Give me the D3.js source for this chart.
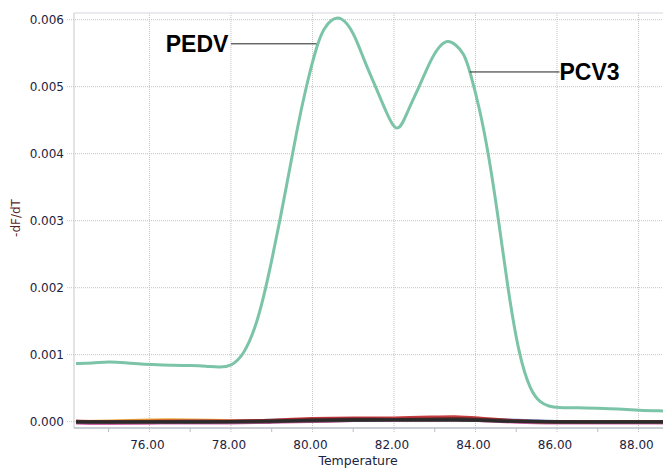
<!DOCTYPE html>
<meta charset="utf-8"/>
<style>
  body { margin: 0; background: #fff; }
  svg { display: block; }
</style>
<svg width="663" height="468"></svg>
<script src="https://d3js.org/d3.v7.min.js"></script>
<script>

// melt curve (target sample), temperature vs -dF/dT
var temps = [74.2, 74.6, 75.0, 75.4, 75.8, 76.2, 76.6, 77.0, 77.4, 77.7, 78.0, 78.32, 78.6, 78.8, 79.0, 79.2, 79.42, 79.62, 79.84,
             80.11, 80.28, 80.45, 80.7, 81.01, 81.26, 81.55, 81.8, 82.09, 82.33, 82.62, 82.9, 83.1, 83.31, 83.5, 83.72, 83.86,
             84.1, 84.32, 84.57, 84.79, 85.06, 85.35, 85.6, 85.8, 86.0, 86.5, 87.0, 87.5, 88.0, 88.6];
var dfdt = [0.00087, 0.00087, 0.00090, 0.00088, 0.00086, 0.00085, 0.00084, 0.00084, 0.00083, 0.00081, 0.00082, 0.00100, 0.00140, 0.00185, 0.00240, 0.00300, 0.00370, 0.00436, 0.00499,
            0.00563, 0.00587, 0.00600, 0.00606, 0.00582, 0.00540, 0.00500, 0.00463, 0.00426, 0.00463, 0.00500, 0.00540, 0.00560, 0.00570, 0.00564, 0.00550, 0.00524,
            0.00468, 0.00400, 0.00300, 0.00200, 0.00100, 0.00045, 0.00028, 0.00023, 0.00021, 0.00021, 0.00020, 0.00019, 0.00017, 0.00016];

// negative controls, all near zero
var ctrlTemps = [74.2, 75, 76, 77, 78, 79, 80, 81, 82, 83, 83.5, 84, 85, 86, 87, 88.6];
var ctrlSeries = [
  {color: "#e8a020", values: [0.00000, 0.00001, 0.00003, 0.00003, 0.00001, 0.00001, 0.00002, 0.00003, 0.00003, 0.00004, 0.00004, 0.00003, 0.00000, -0.00001, -0.00001, -0.00001]},
  {color: "#4a78c8", values: [-0.00001, 0.00000, 0.00000, 0.00001, 0.00000, 0.00002, 0.00004, 0.00005, 0.00004, 0.00004, 0.00005, 0.00004, 0.00002, 0.00000, -0.00001, 0.00000]},
  {color: "#d050a0", values: [-0.00002, -0.00003, -0.00002, -0.00002, -0.00002, -0.00001, 0.00000, 0.00002, 0.00002, 0.00002, 0.00003, 0.00002, -0.00001, -0.00002, -0.00002, -0.00002]},
  {color: "#c0282a", values: [0.00001, 0.00000, 0.00001, 0.00001, 0.00001, 0.00002, 0.00005, 0.00006, 0.00005, 0.00007, 0.00008, 0.00006, 0.00001, -0.00001, 0.00000, 0.00000]},
  {color: "#6a2a2a", values: [0.00000, -0.00001, 0.00000, 0.00000, 0.00000, 0.00001, 0.00003, 0.00004, 0.00003, 0.00004, 0.00005, 0.00004, 0.00001, 0.00000, 0.00000, 0.00000]},
  {color: "#3a3a3a", values: [-0.00001, -0.00001, -0.00001, -0.00001, -0.00001, 0.00000, 0.00001, 0.00002, 0.00002, 0.00002, 0.00002, 0.00002, 0.00000, -0.00001, -0.00001, -0.00001]},
  {color: "#2a2a2a", values: [0.00000, 0.00000, 0.00000, 0.00000, 0.00000, 0.00001, 0.00002, 0.00003, 0.00003, 0.00003, 0.00003, 0.00003, 0.00000, 0.00000, 0.00000, 0.00000]}
];

var xTicks = [76, 78, 80, 82, 84, 86, 88];
var xMinor = [75, 77, 79, 81, 83, 85, 87];
var yTicks = [0, 0.001, 0.002, 0.003, 0.004, 0.005, 0.006];

var labels = [
  {text: "PEDV", tx: 76.4, ty: 0.00564, px: 80.1, py: 0.00564},
  {text: "PCV3", tx: 86.06, ty: 0.00522, px: 83.86, py: 0.00522}
];

var svg = d3.select("svg"),
    pl = 74, pr = 663, pt = 13, pb = 428;

var x = d3.scaleLinear().domain([74.15, 88.6]).range([pl, pr]);
var y = d3.scaleLinear().domain([-0.000094, 0.0061]).range([pb, pt]);

var font = "'DejaVu Sans', Verdana, sans-serif";
var grid = svg.append("g");

// gridlines
grid.selectAll(".gy").data(yTicks).enter().append("line")
    .attr("x1", 67).attr("x2", pr)
    .attr("y1", function(d) { return y(d); }).attr("y2", function(d) { return y(d); })
    .attr("stroke", "#c4c4c4").attr("stroke-dasharray", "1,1");
grid.selectAll(".gx").data(xTicks).enter().append("line")
    .attr("x1", function(d) { return x(d); }).attr("x2", function(d) { return x(d); })
    .attr("y1", pt).attr("y2", pb + 5)
    .attr("stroke", "#c4c4c4").attr("stroke-dasharray", "1,1");
grid.selectAll(".mx").data(xMinor).enter().append("line")
    .attr("x1", function(d) { return x(d); }).attr("x2", function(d) { return x(d); })
    .attr("y1", pb).attr("y2", pb + 4)
    .attr("stroke", "#b8bcc6");

// frame
svg.append("line").attr("x1", pl).attr("x2", pr).attr("y1", pt).attr("y2", pt).attr("stroke", "#d4d6dc");
svg.append("line").attr("x1", pl).attr("x2", pl).attr("y1", pt).attr("y2", pb).attr("stroke", "#c4c8d0");
svg.append("line").attr("x1", pl).attr("x2", pr).attr("y1", pb).attr("y2", pb).attr("stroke", "#b8bcc6").attr("stroke-width", 1.5);

// tick labels
svg.selectAll(".yl").data(yTicks).enter().append("text")
    .attr("x", 64).attr("y", function(d) { return y(d) + 4; })
    .attr("text-anchor", "end")
    .style("font-family", font).style("font-size", "12px").attr("fill", "#1c2340")
    .text(d3.format(".3f"));
svg.selectAll(".xl").data(xTicks).enter().append("text")
    .attr("x", function(d) { return x(d) - 2; }).attr("y", 449)
    .attr("text-anchor", "middle")
    .style("font-family", font).style("font-size", "12px").attr("fill", "#1c2340")
    .text(d3.format(".2f"));

svg.append("text")
    .attr("x", 358).attr("y", 465)
    .attr("text-anchor", "middle")
    .style("font-family", font).style("font-size", "12.5px").attr("fill", "#1c2340")
    .text("Temperature");
svg.append("text")
    .attr("transform", "translate(20,218) rotate(-90)")
    .attr("text-anchor", "middle")
    .style("font-family", font).style("font-size", "12px").attr("fill", "#5a1e24")
    .text("-dF/dT");

// curves
var plot = svg.append("g");
var ctrlLine = d3.line()
    .x(function(d, i) { return x(ctrlTemps[i]); })
    .y(function(d) { return y(d); })
    .curve(d3.curveBasis);
plot.selectAll(".ctrl").data(ctrlSeries).enter().append("path")
    .attr("d", function(s) { return ctrlLine(s.values); })
    .attr("fill", "none").attr("stroke", function(s) { return s.color; })
    .attr("stroke-width", 3).attr("opacity", 0.9);

var line = d3.line()
    .x(function(d, i) { return x(temps[i]); })
    .y(function(d) { return y(d); })
    .curve(d3.curveBasis);
plot.append("path")
    .attr("d", line(dfdt))
    .attr("fill", "none").attr("stroke", "#7cc4a8").attr("stroke-width", 3);

// annotations: leader line from label to curve
labels.forEach(function(l) {
  var t = svg.append("text")
      .attr("x", x(l.tx)).attr("y", y(l.ty) + 8)
      .style("font-family", "'Liberation Sans', Arial, sans-serif")
      .style("font-size", "23px").style("font-weight", "bold").attr("fill", "#000")
      .text(l.text);
  var bb = t.node().getBBox();
  var x0 = l.px < l.tx ? bb.x : bb.x + bb.width + 2;
  svg.append("line")
      .attr("x1", x0).attr("x2", x(l.px))
      .attr("y1", y(l.ty)).attr("y2", y(l.py))
      .attr("stroke", "#222").attr("stroke-width", 1);
});

</script>
